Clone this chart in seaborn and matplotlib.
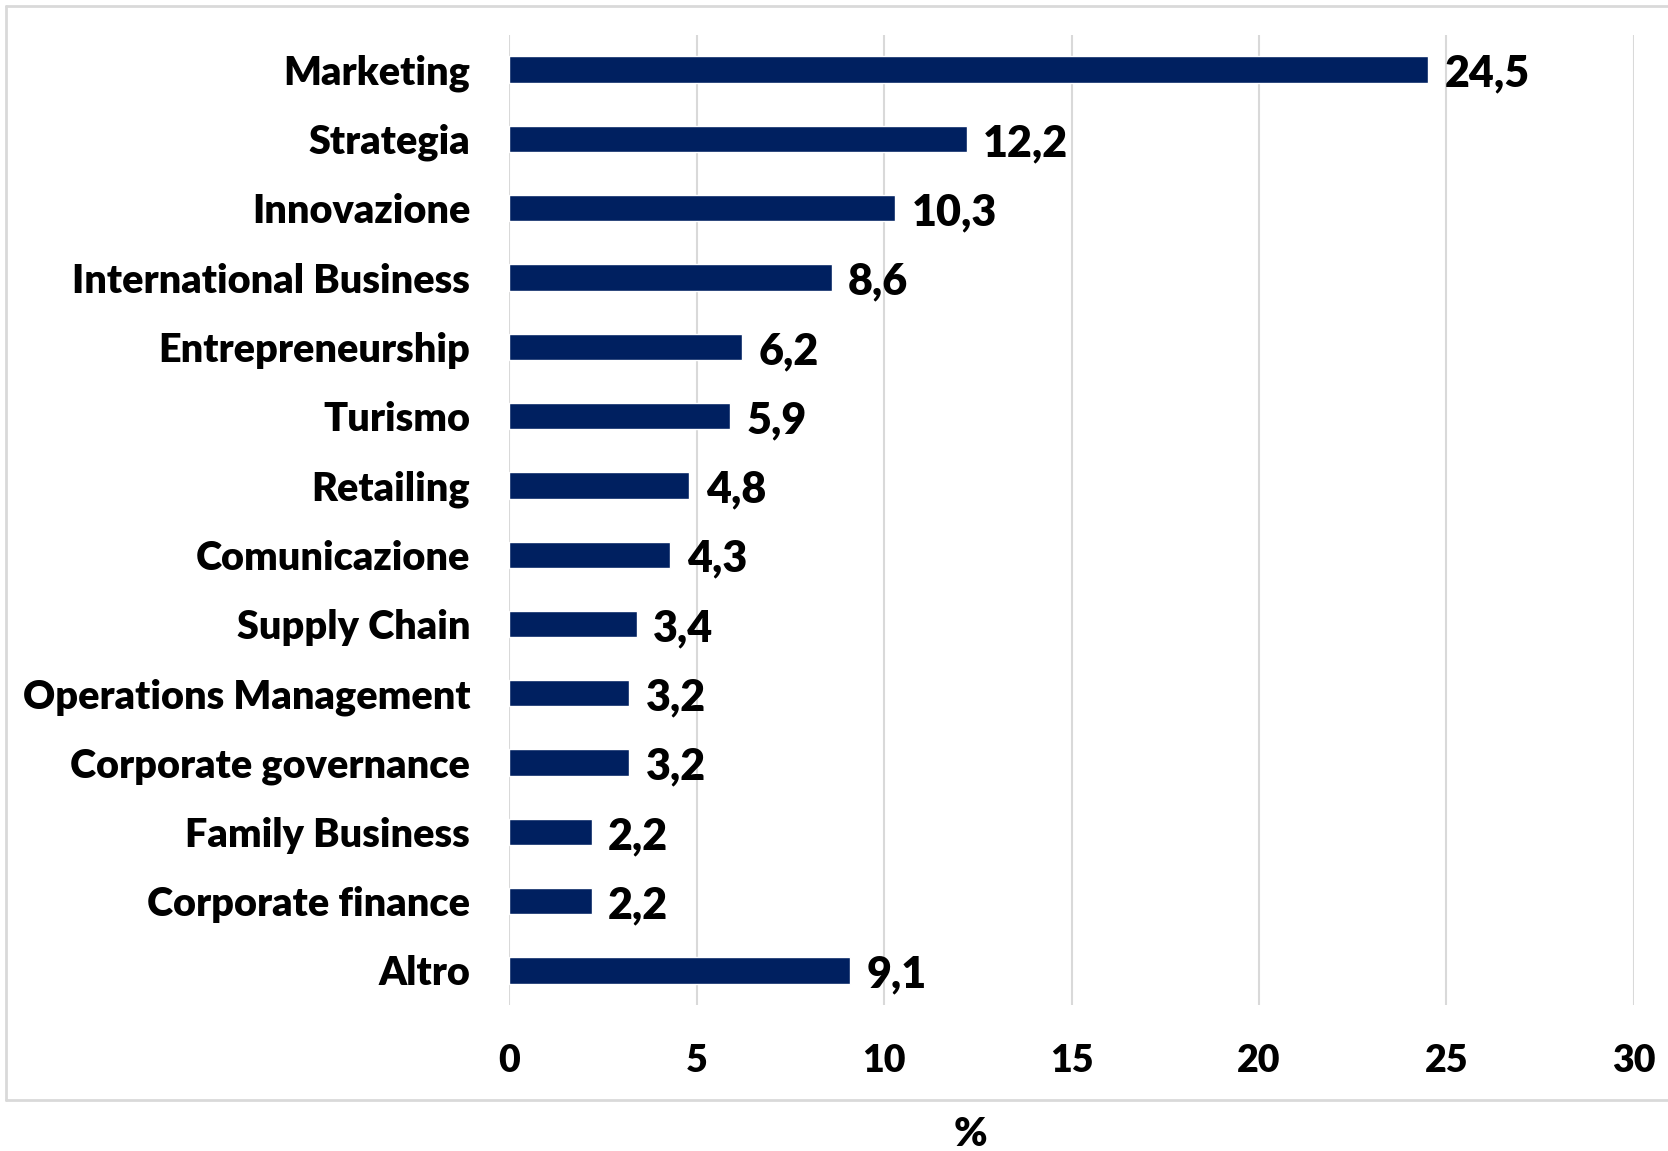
import matplotlib
matplotlib.use("Agg")
import matplotlib.pyplot as plt
import seaborn as sns
import pandas as pd
from matplotlib.lines import Line2D

# Data
categories = ['Marketing', 'Strategia', 'Innovazione', 'International Business',
              'Entrepreneurship', 'Turismo', 'Retailing', 'Comunicazione',
              'Supply Chain', 'Operations Management', 'Corporate governance',
              'Family Business', 'Corporate finance', 'Altro']
values = [24.5, 12.2, 10.3, 8.6, 6.2, 5.9, 4.8, 4.3, 3.4, 3.2, 3.2, 2.2, 2.2, 9.1]
x_ticks = [0, 5, 10, 15, 20, 25, 30]

df = pd.DataFrame({'area': categories, 'pct': values})

sns.set_style('white')
plt.rcParams['font.family'] = ['Lato', 'DejaVu Sans']
W = 'heavy'

fig = plt.figure(figsize=(16.68, 11.51), dpi=100)
ax = fig.add_axes([0.3052, 0.1268, 0.6744, 0.8428])

sns.barplot(data=df, y='area', x='pct', orient='h', color='#002060',
            width=0.38, saturation=1, ax=ax)

# value labels with comma decimals
for i, v in enumerate(values):
    ax.annotate(f'{v:.1f}'.replace('.', ','), (v, i), xytext=(12, -3),
                textcoords='offset points', ha='left', va='center',
                fontsize=31, fontweight=W, color='black')

ax.set_xlim(0, 30)
ax.set_xticks(x_ticks)
ax.set_xticklabels([str(t) for t in x_ticks])
ax.xaxis.grid(True, color='#D9D9D9', linewidth=1.5)
ax.set_axisbelow(True)
for s in ax.spines.values():
    s.set_visible(False)
ax.tick_params(axis='x', length=0, pad=28, labelsize=27, labelcolor='black')
ax.tick_params(axis='y', length=0, pad=28, labelsize=28.5, labelcolor='black')
for lab in ax.get_xticklabels() + ax.get_yticklabels():
    lab.set_fontweight(W)
ax.set_xlabel('')
ax.set_ylabel('')

# x axis title below chart border
fig.text(970 / 1668, 1 - 1135 / 1151, '%', ha='center', va='center',
         fontsize=29, fontweight=W, color='black')

# chart area border (light gray), open on the right
bc = '#D9D9D9'
l, t, b = 6 / 1668, 1 - 6 / 1151, 1 - 1100 / 1151
fig.add_artist(Line2D([l, 1.0], [t, t], color=bc, lw=2, transform=fig.transFigure))
fig.add_artist(Line2D([l, l], [t, b], color=bc, lw=2, transform=fig.transFigure))
fig.add_artist(Line2D([l, 1.0], [b, b], color=bc, lw=2, transform=fig.transFigure))

fig.savefig('out.png', dpi=100)
